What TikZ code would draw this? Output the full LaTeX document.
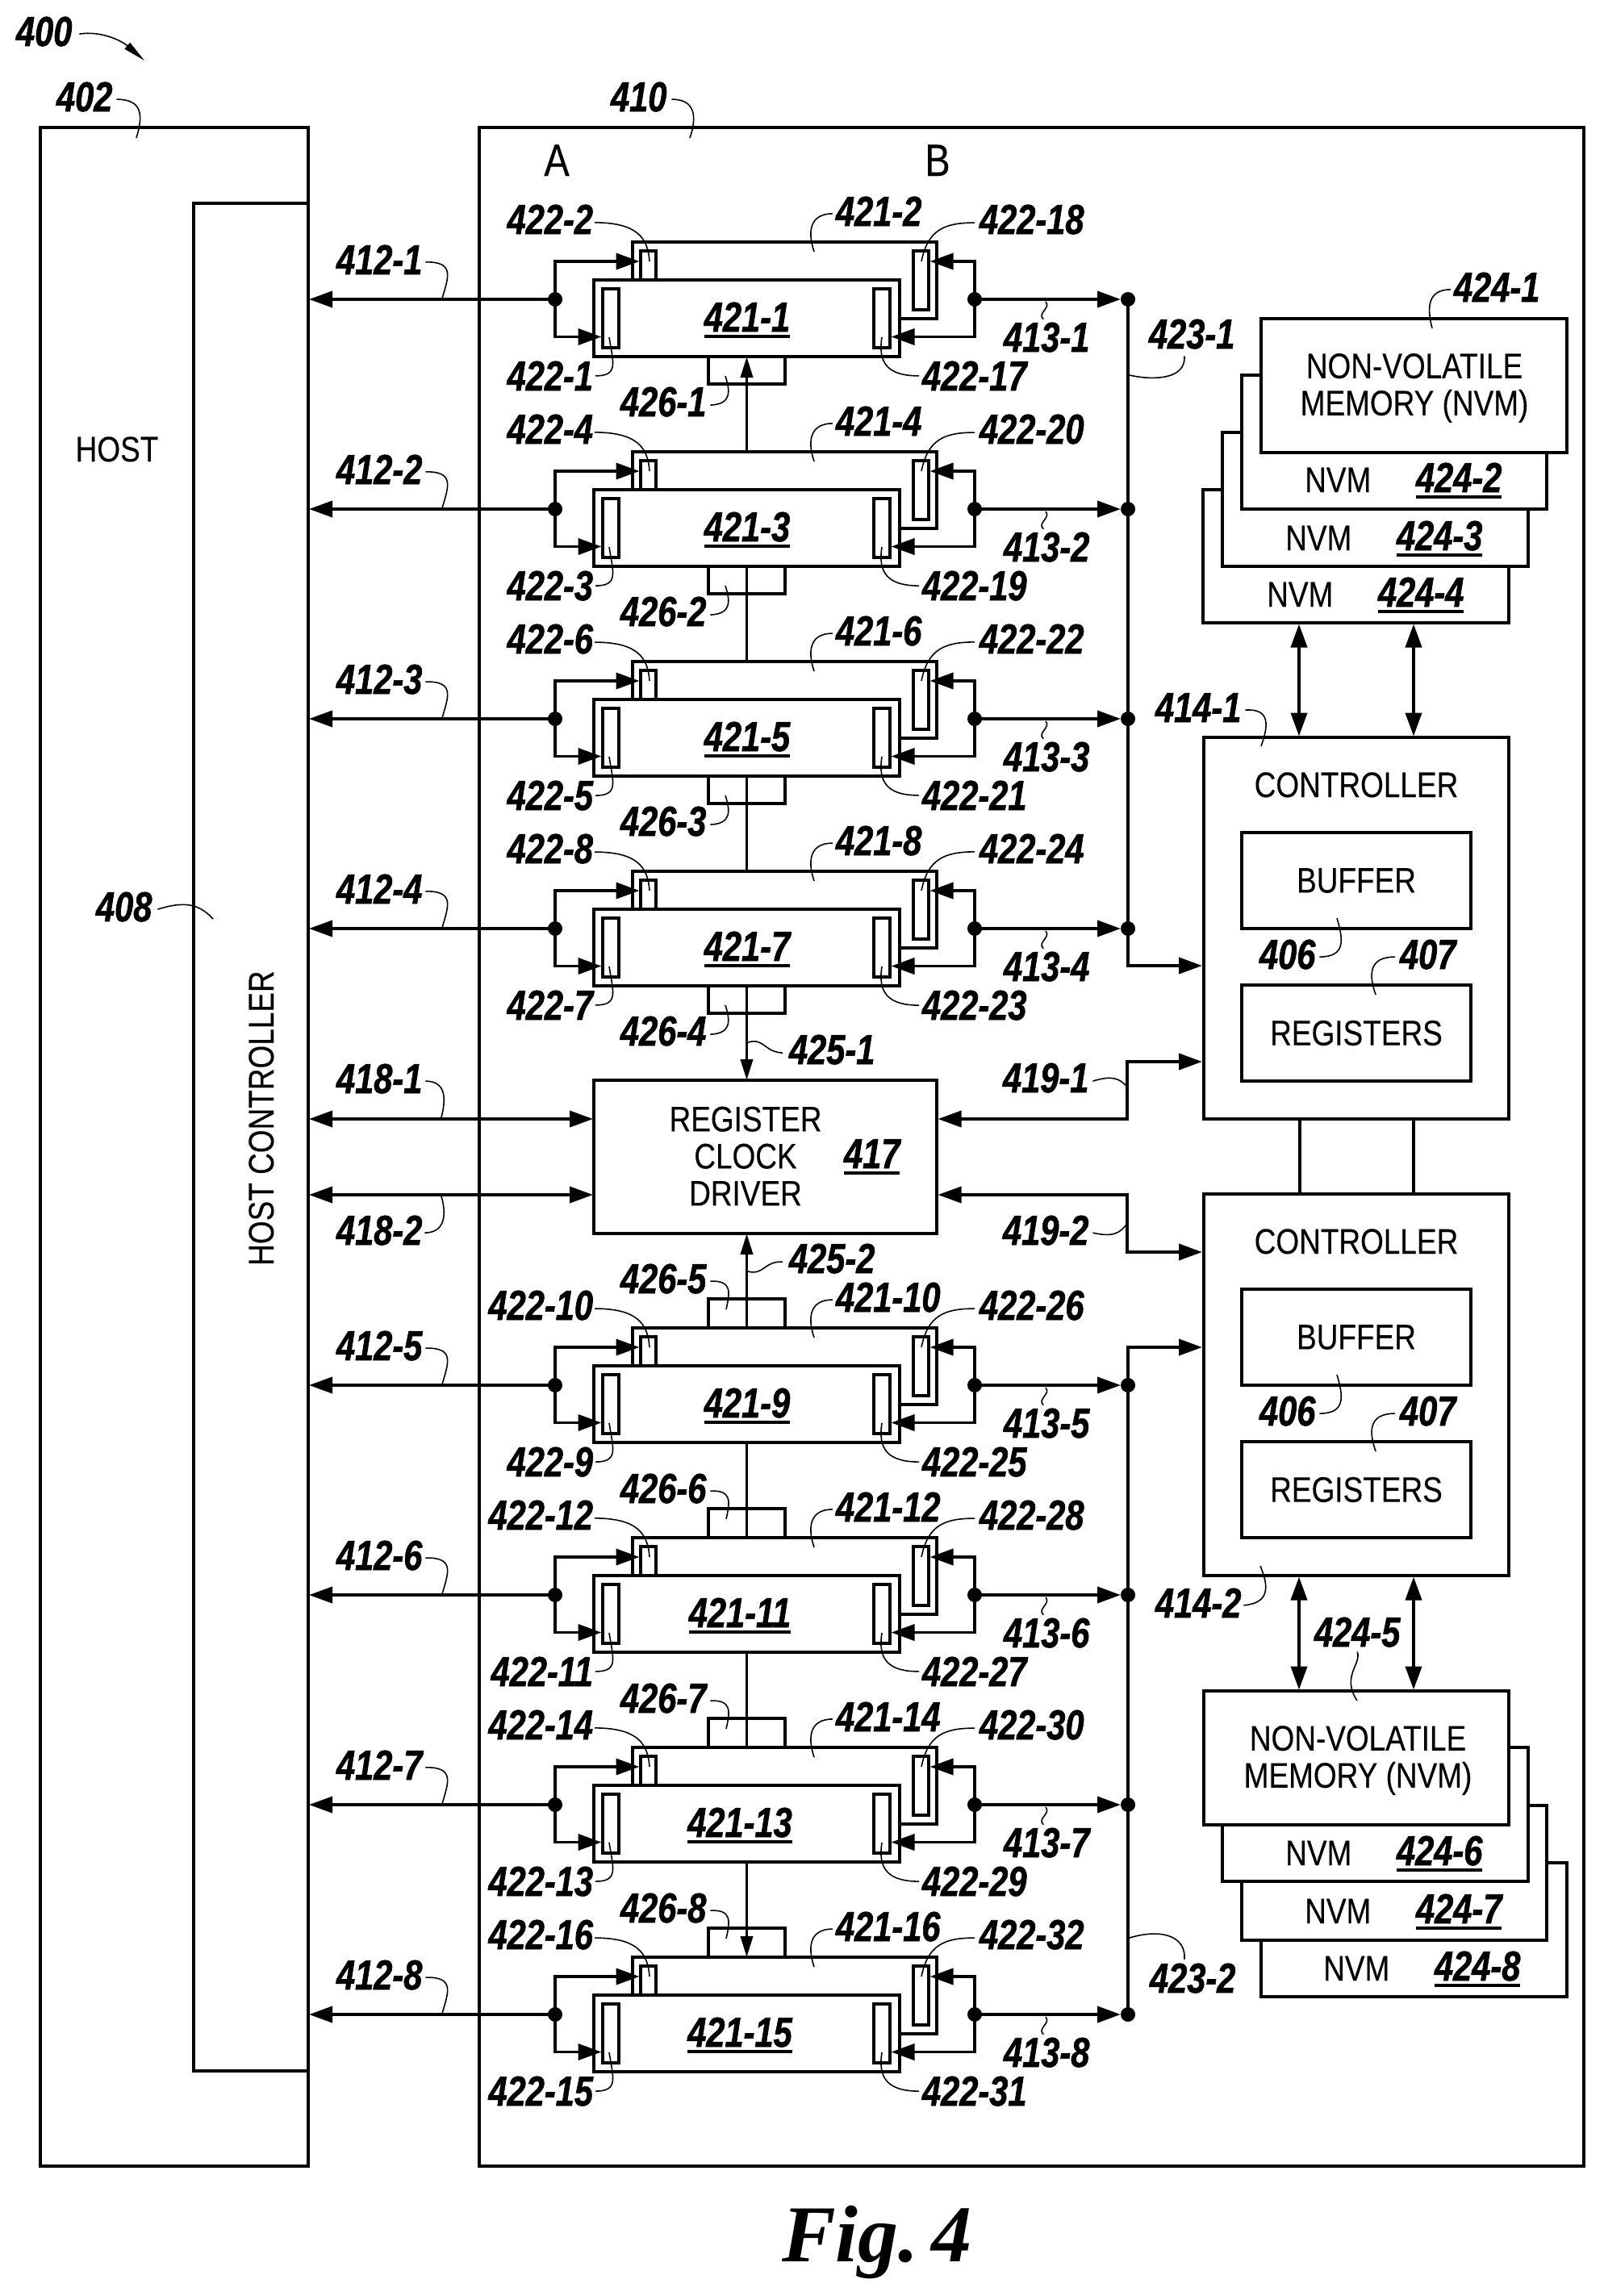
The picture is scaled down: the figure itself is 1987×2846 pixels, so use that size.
\documentclass[tikz,border=0pt]{standalone}
\usepackage{fontspec}
\usetikzlibrary{arrows.meta,calc}
\setmainfont{Liberation Sans}
\newfontfamily\lfam{Liberation Sans}[FakeStretch=0.8,FakeBold=1.2]
\newfontfamily\tfam{Liberation Sans}[FakeStretch=0.84,FakeBold=0.25]
\newfontfamily\ffam{Liberation Serif}
\newcommand\lbfont{\lfam\bfseries\itshape\fontsize{52}{54}\selectfont}
\newcommand\txfont{\tfam\fontsize{44}{46}\selectfont}
\newcommand\abfont{\tfam\fontsize{56}{58}\selectfont}
\newcommand\ulb[1]{\leavevmode\vtop{\hbox{#1}\kern3.5pt\hrule height 4.2pt}}
\tikzset{
  boxst/.style={draw=black,fill=white,line width=3.8pt,inner sep=0pt,outer sep=0pt},
  barst/.style={draw=black,fill=white,line width=3.4pt,inner sep=0pt,outer sep=0pt},
  lab/.style={font=\lbfont,inner sep=0pt,outer sep=0pt,text=black},
  tx/.style={font=\txfont,inner sep=0pt,outer sep=0pt,text=black},
  ldline/.style={draw=black,line width=1.6pt},
  wire/.style={draw=black,line width=3.8pt},
  ar/.style={wire,-{Triangle[length=29pt,width=20pt]}},
  ra/.style={wire,{Triangle[length=29pt,width=20pt]}-},
  aa/.style={wire,{Triangle[length=29pt,width=20pt]}-{Triangle[length=29pt,width=20pt]}},
  nar/.style={wire,-{Triangle[length=26pt,width=15pt]}},
  dotc/.style={circle,fill=black,draw=none,minimum size=18pt,inner sep=0pt,outer sep=0pt},
}
\newcommand\bx[6][boxst]{%
  \pgfmathsetmacro\cxx{(#3+#5)/2}\pgfmathsetmacro\cyy{(#4+#6)/2}%
  \pgfmathsetmacro\www{#5-#3}\pgfmathsetmacro\hhh{#6-#4}%
  \node[#1,minimum width=\www pt,minimum height=\hhh pt] (#2) at (\cxx,\cyy) {};}
\newcommand\bxt[7][boxst]{%
  \pgfmathsetmacro\cxx{(#3+#5)/2}\pgfmathsetmacro\cyy{(#4+#6)/2}%
  \pgfmathsetmacro\www{#5-#3}\pgfmathsetmacro\hhh{#6-#4}%
  \node[#1,font=\txfont,minimum width=\www pt,minimum height=\hhh pt] (#2) at (\cxx,\cyy) {#7};}
\newcommand\ld[5]{\coordinate (ldend) at (#5);
  \draw[ldline] ([shift={(#1)}]#2) .. controls (#3) and (#4) .. (ldend);}
\begin{document}
\begin{tikzpicture}[x=1pt,y=-1pt]
\path[use as bounding box,fill=white] (0,0) rectangle (1987,2846);
% outer boxes
\bx{host}{50}{158}{382}{2685}
\bx{hc}{240}{252}{382}{2567}
\bx{ssd}{594}{158}{1963}{2685}
\node[tx,anchor=base] (hosttx) at (145,572) {HOST};
\node[tx,anchor=base,rotate=90] (hctx) at (339,1386) {HOST CONTROLLER};
\node[font=\abfont,inner sep=0pt,anchor=base] (sa) at (690,218) {A};
\node[font=\abfont,inner sep=0pt,anchor=base] (sb) at (1162,218) {B};
% top labels
\node[lab,anchor=base west] (n400) at (20,57) {400};
\coordinate (n400end) at (179,75);
\draw[ldline,-{Triangle[length=28pt,width=10pt]}] ([shift={(9,3)}]n400.east) .. controls (125,38) and (150,50) .. (n400end);
\node[lab,anchor=base west] (n402) at (70,138) {402};
\ld{5,3}{n402.east}{178,123}{177,145}{169,171}
\node[lab,anchor=base west] (n410) at (757,138) {410};
\ld{6,3}{n410.east}{862,123}{864,145}{855,171}
\node[lab,anchor=base west] (n408) at (119,1142) {408};
\ld{7,3}{n408.east}{225,1118}{245,1118}{264,1139}
% memory rows
\foreach \r/\yo/\fx in {1/0/926,2/260/926,3/520/926,4/780/926,5/1346/926,6/1606/917,7/1866/917,8/2126/917}{
  \pgfmathtruncatemacro\ao{2*\r-1}
  \pgfmathtruncatemacro\ae{2*\r}
  \pgfmathtruncatemacro\bo{16+2*\r-1}
  \pgfmathtruncatemacro\be{16+2*\r}
  \begin{scope}[shift={(0,\yo)}]
    \coordinate (top\r) at (925.5,300);
    \coordinate (bot\r) at (925.5,442);
    \coordinate (hl\r) at (383,371);
    \ifnum\r<5
      \bx{st\r}{878}{442}{973}{476}
    \else
      \bx{st\r}{878}{264}{973}{300}
    \fi
    \bx{bk\r}{784}{300}{1161}{395}
    \bx[barst]{ub\r}{794}{311}{813}{347}
    \bx[barst]{rb\r}{1132}{311}{1151}{384}
    \bx{fr\r}{736}{347}{1115}{442}
    \bx[barst]{lb\r}{747}{358}{767}{431}
    \bx[barst]{qb\r}{1083}{358}{1103}{431}
    \node[dotc] (dl\r) at (688,371) {};
    \node[dotc] (dr\r) at (1208,371) {};
    \node[dotc] (bd\r) at (1398,371) {};
    \coordinate (a1\r) at (792.5,324);
    \coordinate (a2\r) at (745.5,417.5);
    \coordinate (a3\r) at (1152.5,324);
    \coordinate (a4\r) at (1104.5,417.5);
    \draw[ar] (dl\r.center) -- (hl\r);
    \draw[ar] (dl\r.center) |- (a1\r);
    \draw[ar] (dl\r.center) |- (a2\r);
    \draw[ar] (dr\r.center) |- (a3\r);
    \draw[ar] (dr\r.center) |- (a4\r);
    \draw[ar] (dr\r.center) -- (bd\r.west);
    \node[lab,anchor=base] (nf\r) at (\fx,411) {\ulb{421-\ao}};
    \node[lab,anchor=base west] (nb\r) at (1036,280) {421-\ae};
    \node[lab,anchor=base east] (nu\r) at (735,290) {422-\ae};
    \node[lab,anchor=base east] (nl\r) at (735,484) {422-\ao};
    \node[lab,anchor=base west] (nr\r) at (1214,290) {422-\be};
    \node[lab,anchor=base west] (nq\r) at (1143,484) {422-\bo};
    \node[lab,anchor=base west] (nh\r) at (417,340) {412-\r};
    \node[lab,anchor=base west] (nd\r) at (1244,436) {413-\r};
    \ld{2,4}{nu\r.east}{790,276}{803,295}{805,324}
    \ld{-4,3}{nb\r.west}{1005,265}{1000,285}{1009,312}
    \ld{-6,4}{nr\r.west}{1170,276}{1150,285}{1142,324}
    \ld{4,3}{nh\r.east}{565,324}{555,345}{548,370}
    \ld{-4,-4}{nd\r.north}{1285,388}{1303,382}{1296,374}
    \ld{3,0}{nl\r.east}{767,466}{760,450}{755,418}
    \ld{-4,0}{nq\r.west}{1100,466}{1088,450}{1093,418}
    \ifnum\r<5
      \node[lab,anchor=base west] (ns\r) at (769,516) {426-\r};
      \ld{5,4}{ns\r.east}{907,501}{905,485}{899,466}
    \else
      \node[lab,anchor=base west] (ns\r) at (769,257) {426-\r};
      \ld{5,3}{ns\r.east}{907,241}{905,255}{900,277}
    \fi
  \end{scope}
}
% register clock driver
\bx{reg}{736}{1339}{1161}{1529}
\node[font=\txfont,inner sep=0pt,align=center,anchor=center] (regtx) at (924,1433) {REGISTER\\[0pt]CLOCK\\[0pt]DRIVER};
\node[lab,anchor=base west] (n417) at (1046,1448) {\ulb{417}};
\coordinate (regt) at (925.5,1339);
\coordinate (regb) at (925.5,1529);
% vertical links
\draw[nar] (top2) -- (bot1);
\draw[wire] (top3) -- (bot2);
\draw[wire] (top4) -- (bot3);
\draw[nar] (bot4) -- (regt);
\draw[nar] (top5) -- (regb);
\draw[wire] (bot5) -- (top6);
\draw[wire] (bot6) -- (top7);
\draw[nar] (bot7) -- (top8);
\node[lab,anchor=base west] (n4251) at (978,1319) {425-1};
\ld{-8,4}{n4251.west}{947,1304}{947,1286}{927,1292}
\node[lab,anchor=base west] (n4252) at (978,1578) {425-2};
\ld{-8,4}{n4252.west}{947,1563}{947,1581}{927,1576}
% 418 lines
\coordinate (h181) at (383,1387); \coordinate (r181) at (735,1387);
\coordinate (h182) at (383,1481); \coordinate (r182) at (735,1481);
\draw[aa] (h181) -- (r181);
\draw[aa] (h182) -- (r182);
\node[lab,anchor=base west] (n4181) at (417,1355) {418-1};
\ld{4,3}{n4181.east}{553,1340}{553,1362}{547,1385}
\node[lab,anchor=base west] (n4182) at (417,1543) {418-2};
\ld{3,3}{n4182.east}{553,1528}{553,1503}{547,1483}
% controllers
\bx{c1}{1492}{914}{1870}{1387}
\bx{c2}{1492}{1480}{1870}{1953}
\draw[wire] ($(c1.south)+(-70,0)$) -- ($(c2.north)+(-70,0)$);
\draw[wire] ($(c1.south)+(71,0)$) -- ($(c2.north)+(71,0)$);
\node[font=\txfont,inner sep=0pt,anchor=base] (c1t) at (1681,988) {CONTROLLER};
\node[font=\txfont,inner sep=0pt,anchor=base] (c2t) at (1681,1554) {CONTROLLER};
\bxt{buf1}{1539}{1032}{1823}{1151}{BUFFER}
\bxt{reg1}{1539}{1221}{1823}{1340}{REGISTERS}
\bxt{buf2}{1539}{1598}{1823}{1717}{BUFFER}
\bxt{reg2}{1539}{1787}{1823}{1906}{REGISTERS}
\node[lab,anchor=base west] (n4061) at (1561,1201) {406};
\ld{5,3}{n4061.east}{1668,1186}{1665,1165}{1657,1138}
\node[lab,anchor=base west] (n4071) at (1735,1201) {407};
\ld{-6,3}{n4071.west}{1695,1186}{1697,1210}{1705,1233}
\node[lab,anchor=base west] (n4062) at (1561,1767) {406};
\ld{5,3}{n4062.east}{1668,1752}{1665,1731}{1657,1704}
\node[lab,anchor=base west] (n4072) at (1735,1767) {407};
\ld{-6,3}{n4072.west}{1695,1752}{1697,1776}{1705,1799}
\node[lab,anchor=base west] (n4141) at (1432,895) {414-1};
\ld{5,3}{n4141.east}{1575,878}{1572,900}{1563,925}
\node[lab,anchor=base west] (n4142) at (1432,2005) {414-2};
\ld{3,3}{n4142.east}{1575,1987}{1572,1965}{1562,1941}
% buses
\coordinate (c1in) at (1490,1197);
\coordinate (c2in) at (1490,1670);
\draw[ar] (bd1.center) |- (c1in);
\draw[ar] (bd8.center) |- (c2in);
\coordinate (r191) at (1162.5,1387); \coordinate (k191) at (1397,1316); \coordinate (c191) at (1490,1316);
\coordinate (r192) at (1162.5,1481); \coordinate (k192) at (1397,1552); \coordinate (c192) at (1490,1552);
\draw[aa] (r191) -| (k191) -- (c191);
\draw[aa] (r192) -| (k192) -- (c192);
\node[lab,anchor=base west] (n4191) at (1243,1354) {419-1};
\ld{5,4}{n4191.east}{1380,1332}{1388,1338}{1396,1346}
\node[lab,anchor=base west] (n4192) at (1243,1543) {419-2};
\ld{5,3}{n4192.east}{1380,1534}{1388,1528}{1396,1518}
\node[lab,anchor=base west] (n4231) at (1424,432) {423-1};
\ld{44,9}{n4231.south west}{1470,470}{1430,472}{1400,465}
\node[lab,anchor=base west] (n4232) at (1425,2470) {423-2};
\ld{43,-42}{n4232.south west}{1470,2400}{1440,2390}{1400,2402}
% upper NVM stack
\bx{nv4}{1491}{607}{1870}{772}
\bx{nv3}{1515}{536}{1894}{702}
\bx{nv2}{1539}{465}{1917}{631}
\bx{nv1}{1563}{395}{1942}{561}
\node[font=\txfont,inner sep=0pt,align=center,anchor=center] (nv1t) at (1753,481) {NON-VOLATILE\\[0pt]MEMORY (NVM)};
\node[font=\txfont,inner sep=0pt,anchor=base west] (nv2a) at (1617,610) {NVM};
\node[lab,anchor=base west] (nv2b) at (1755,610) {\ulb{424-2}};
\node[font=\txfont,inner sep=0pt,anchor=base west] (nv3a) at (1593,682) {NVM};
\node[lab,anchor=base west] (nv3b) at (1731,682) {\ulb{424-3}};
\node[font=\txfont,inner sep=0pt,anchor=base west] (nv4a) at (1570,752) {NVM};
\node[lab,anchor=base west] (nv4b) at (1708,752) {\ulb{424-4}};
\node[lab,anchor=base west] (n4241) at (1802,374) {424-1};
\ld{-4,3}{n4241.west}{1770,359}{1768,380}{1775,407}
\coordinate (u1t) at (1610,773.5); \coordinate (u1b) at (1610,912.5);
\coordinate (u2t) at (1752,773.5); \coordinate (u2b) at (1752,912.5);
\draw[aa] (u1t) -- (u1b);
\draw[aa] (u2t) -- (u2b);
% lower NVM stack
\bx{nv8}{1563}{2309}{1942}{2475}
\bx{nv7}{1539}{2238}{1917}{2405}
\bx{nv6}{1515}{2166}{1894}{2332}
\bx{nv5}{1492}{2096}{1870}{2262}
\node[font=\txfont,inner sep=0pt,align=center,anchor=center] (nv5t) at (1683,2182) {NON-VOLATILE\\[0pt]MEMORY (NVM)};
\node[font=\txfont,inner sep=0pt,anchor=base west] (nv6a) at (1593,2312) {NVM};
\node[lab,anchor=base west] (nv6b) at (1731,2312) {\ulb{424-6}};
\node[font=\txfont,inner sep=0pt,anchor=base west] (nv7a) at (1617,2384) {NVM};
\node[lab,anchor=base west] (nv7b) at (1755,2384) {\ulb{424-7}};
\node[font=\txfont,inner sep=0pt,anchor=base west] (nv8a) at (1640,2455) {NVM};
\node[lab,anchor=base west] (nv8b) at (1778,2455) {\ulb{424-8}};
\node[lab,anchor=base west] (n4245) at (1629,2041) {424-5};
\ld{0,6}{n4245.south}{1688,2062}{1662,2078}{1682,2108}
\coordinate (l1t) at (1610,1954.5); \coordinate (l1b) at (1610,2094.5);
\coordinate (l2t) at (1752,1954.5); \coordinate (l2b) at (1752,2094.5);
\draw[aa] (l1t) -- (l1b);
\draw[aa] (l2t) -- (l2b);
% figure title
\node[font=\ffam\bfseries\itshape\fontsize{100}{100}\selectfont,inner sep=0pt,anchor=base west] (figt) at (969,2803) {Fig.\hspace{16pt}4};
\end{tikzpicture}
\end{document}
